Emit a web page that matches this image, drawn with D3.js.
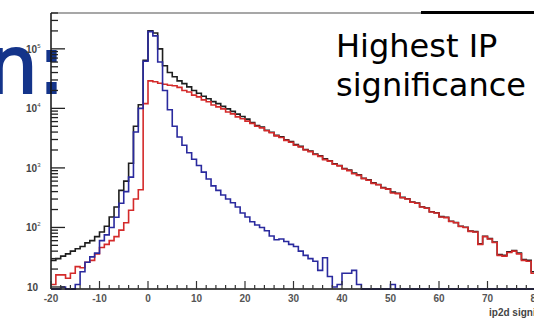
<!DOCTYPE html>
<html>
<head>
<meta charset="utf-8">
<script src="https://cdn.jsdelivr.net/npm/d3@7"></script>
<style>
  html, body { margin: 0; padding: 0; background: #fff; }
  svg { display: block; }
</style>
</head>
<body>
<svg id="chart" width="534" height="320"></svg>
<script>
// histogram bins: width 1, first bin starts at -20
const binStart = -20;
const binWidth = 1;

// total (black)
const totalCounts = [
  28, 30, 33, 36, 40, 44, 48, 55, 60, 70, 84, 105, 150, 220, 420, 600, 1200, 5000, 11500, 64000,
  200000, 185000, 100000, 52000, 40000, 34000, 29000, 26000, 23000, 20000,
  18000, 16000, 14500, 13000, 12000, 10800, 9800, 8900, 8000, 7300,
  6600, 5800, 5150, 4850, 4300, 3980, 3520, 3330, 2960, 2760,
  2460, 2300, 2040, 1920, 1710, 1590, 1420, 1320, 1170, 1100,
  980, 920, 820, 765, 670, 630, 560, 528, 468, 446,
  392, 375, 320, 304, 268, 258, 223, 212, 184, 177,
  152, 148, 127, 121, 105, 101, 87, 85, 53, 71,
  65, 57, 35, 34, 39, 41, 37, 29, 28, 18
];

// light / prompt (blue)
const blueCounts = [
  0, 0, 10, 0, 0, 11, 18, 26, 32, 37, 60, 75, 100, 148, 255, 400, 700, 4000, 10000, 62000,
  195000, 165000, 60000, 20000, 9500, 5000, 3300, 2400, 1800, 1400,
  1100, 850, 650, 500, 420, 350, 300, 260, 220, 175,
  150, 125, 110, 100, 88, 72, 62, 64, 58, 52,
  48, 40, 34, 30, 27, 19, 31, 15, 10, 11,
  17, 17, 19, 11, 0, 0, 0, 0, 0, 0,
  11, 0, 0, 0, 0, 0, 0, 0, 0, 0,
  0, 0, 0, 0, 0, 0, 0, 0, 0, 0,
  0, 0, 0, 0, 0, 0, 0, 0, 0, 0
];

// heavy flavour (red)
const redCounts = [
  11, 16, 16, 14, 17, 22, 21, 26, 28, 36, 46, 52, 60, 70, 90, 120, 195, 300, 430, 12000,
  29000, 28000, 26500, 25500, 24500, 24000, 22500, 20000, 18800, 16700,
  15600, 13900, 12900, 11400, 10600, 9800, 8700, 8100, 7200, 6700,
  6100, 5600, 5000, 4700, 4200, 3900, 3450, 3250, 2900, 2700,
  2400, 2250, 2000, 1880, 1680, 1560, 1380, 1300, 1150, 1080,
  960, 900, 800, 750, 660, 620, 550, 520, 460, 440,
  380, 370, 315, 300, 265, 255, 220, 210, 182, 175,
  150, 146, 126, 120, 104, 100, 86, 84, 52, 70,
  64, 56, 34, 33, 38, 40, 36, 28, 27, 17
];

const xTickLabels = [-20, -10, 0, 10, 20, 30, 40, 50, 60, 70, 80];
const yDecades = [10, 100, 1000, 10000, 100000];
const yExponents = ["", "2", "3", "4", "5"];

const svg = d3.select("#chart");

const x = d3.scaleLinear().domain([-20, 80]).range([51, 536]);
const yMin = 9.25;
const y = d3.scaleLog().domain([yMin, 4e5]).range([289, 13]);

// slide title remnant
svg.append("text")
  .attr("x", 65).attr("y", 93)
  .attr("text-anchor", "end")
  .attr("font-family", "DejaVu Sans")
  .attr("font-size", 80)
  .attr("fill", "#14348a")
  .attr("stroke", "#14348a")
  .attr("stroke-width", 2)
  .text("n:");

// frame
svg.append("line")
  .attr("x1", 51).attr("x2", 534).attr("y1", 13).attr("y2", 13)
  .attr("stroke", "#8a8a8a").attr("stroke-width", 1.5);
svg.append("line")
  .attr("x1", 421).attr("x2", 534).attr("y1", 12.5).attr("y2", 12.5)
  .attr("stroke", "#000").attr("stroke-width", 3);

function histPath(counts){
  const pts = counts.map((v, i) => [binStart + i * binWidth, Math.max(v, yMin)]);
  pts.push([binStart + counts.length * binWidth, Math.max(counts[counts.length - 1], yMin)]);
  return d3.line()
    .x(d => x(d[0]))
    .y(d => y(d[1]))
    .curve(d3.curveStepAfter)(pts);
}

const plot = svg.append("g");
[[totalCounts, "#1e1e1e"], [redCounts, "#d42a2a"], [blueCounts, "#2a2a9e"]].forEach(function(me){
  plot.append("path")
    .attr("d", histPath(me[0]))
    .attr("fill", "none")
    .attr("stroke", me[1])
    .attr("stroke-width", 1.6);
});

// y axis (log), ticks drawn inside
const yAxis = svg.append("g");
yAxis.append("line")
  .attr("x1", 51).attr("x2", 51).attr("y1", 13).attr("y2", 289)
  .attr("stroke", "#111").attr("stroke-width", 1.5);
y.ticks().forEach(function(t){
  if (t < 10) return;
  const major = yDecades.includes(t);
  yAxis.append("line")
    .attr("x1", 51).attr("x2", major ? 65 : 58)
    .attr("y1", y(t)).attr("y2", y(t))
    .attr("stroke", "#222").attr("stroke-width", 1.3);
});
yDecades.forEach(function(d, i){
  const t = yAxis.append("text")
    .attr("x", i === 0 ? 27 : 26).attr("y", y(d) + 4)
    .attr("font-family", "Liberation Sans")
    .attr("font-weight", "bold")
    .attr("font-size", 10)
    .attr("fill", "#444");
  t.append("tspan").text("10");
  if (yExponents[i]) {
    t.append("tspan")
      .attr("dy", -5)
      .attr("font-size", 6)
      .attr("font-weight", "normal")
      .text(yExponents[i]);
  }
});

// x axis, ticks drawn inside
const xAxis = svg.append("g");
xAxis.append("line")
  .attr("x1", 51).attr("x2", 534).attr("y1", 289).attr("y2", 289)
  .attr("stroke", "#111").attr("stroke-width", 1.5);
d3.range(-20, 81, 2).forEach(function(t){
  const major = t % 10 === 0;
  xAxis.append("line")
    .attr("x1", x(t)).attr("x2", x(t))
    .attr("y1", 289).attr("y2", major ? 281 : 285)
    .attr("stroke", "#333").attr("stroke-width", 1.2);
});
xTickLabels.forEach(function(t){
  xAxis.append("text")
    .attr("x", x(t)).attr("y", 302)
    .attr("text-anchor", "middle")
    .attr("font-family", "Liberation Sans")
    .attr("font-weight", "bold")
    .attr("font-size", 10)
    .attr("fill", "#555")
    .text(t);
});
xAxis.append("text")
  .attr("x", 489).attr("y", 316)
  .attr("font-family", "Liberation Sans")
  .attr("font-weight", "bold")
  .attr("font-size", 10)
  .attr("fill", "#444")
  .text("ip2d significance");

// annotation
const note = svg.append("g")
  .attr("font-family", "DejaVu Sans")
  .attr("font-size", 32)
  .attr("fill", "#000");
note.append("text").attr("x", 336).attr("y", 57).text("Highest IP");
note.append("text").attr("x", 336).attr("y", 96).text("significance");
</script>
</body>
</html>
